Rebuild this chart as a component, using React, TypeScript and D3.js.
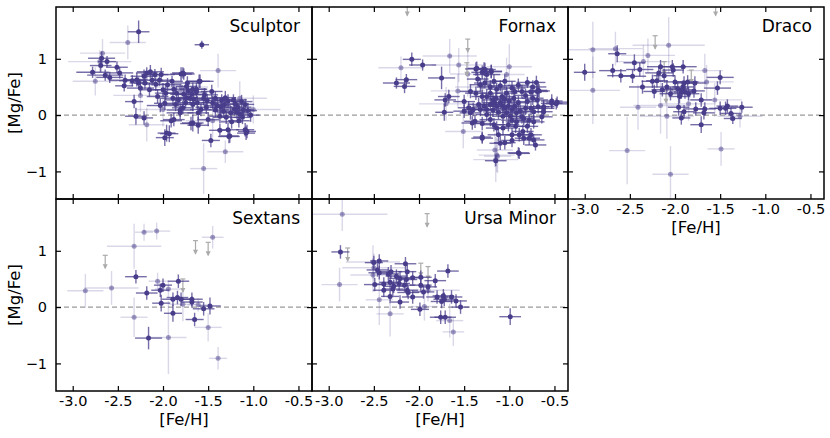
import React, { useEffect, useRef } from "react";
import * as d3 from "d3";

// [Fe/H], [Mg/Fe], err Fe, err Mg
type Pt = [number, number, number, number];

const sculptorDark: Pt[] = [
  [-2.27, 1.48, 0.12, 0.2], [-1.57, 1.25, 0.08, 0.07], [-2.68, 1.01, 0.15, 0.12], [-2.78, 0.76, 0.18, 0.1],
  [-2.69, 0.88, 0.12, 0.12], [-2.62, 0.95, 0.1, 0.1], [-2.64, 0.71, 0.2, 0.1], [-2.59, 0.67, 0.15, 0.1],
  [-2.51, 0.85, 0.12, 0.1], [-2.48, 0.75, 0.15, 0.1], [-2.43, 0.52, 0.1, 0.1], [-2.42, 0.62, 0.18, 0.1],
  [-2.34, 0.61, 0.15, 0.1], [-2.29, 0.63, 0.12, 0.12], [-2.27, 0.57, 0.1, 0.1], [-2.25, 0.48, 0.15, 0.12],
  [-2.21, 0.69, 0.15, 0.12], [-2.18, 0.75, 0.12, 0.1], [-2.14, 0.77, 0.15, 0.12], [-2.2, 0.57, 0.12, 0.1],
  [-2.15, 0.45, 0.12, 0.12], [-2.09, 0.72, 0.15, 0.1], [-2.04, 0.62, 0.12, 0.1], [-2.02, 0.72, 0.15, 0.12],
  [-2.06, 0.33, 0.12, 0.12], [-2.03, 0.17, 0.15, 0.12], [-1.98, 0.21, 0.12, 0.12], [-2.0, 0.45, 0.15, 0.12],
  [-1.95, 0.54, 0.15, 0.12], [-1.88, 0.46, 0.12, 0.1], [-1.89, 0.3, 0.15, 0.12], [-1.85, 0.39, 0.12, 0.12],
  [-1.83, 0.27, 0.15, 0.12], [-1.8, 0.73, 0.12, 0.12], [-1.77, 0.73, 0.12, 0.1], [-1.73, 0.57, 0.15, 0.12],
  [-1.72, 0.43, 0.12, 0.12], [-1.77, 0.37, 0.15, 0.12], [-1.75, 0.22, 0.12, 0.1], [-1.81, 0.09, 0.15, 0.12],
  [-1.68, 0.37, 0.15, 0.12], [-1.66, 0.28, 0.12, 0.1], [-1.63, 0.46, 0.12, 0.12], [-1.62, 0.22, 0.15, 0.12],
  [-1.6, 0.6, 0.12, 0.12], [-1.61, 0.04, 0.12, 0.12], [-1.67, -0.14, 0.12, 0.15], [-1.96, -0.32, 0.1, 0.15],
  [-1.93, -0.33, 0.1, 0.15], [-1.88, -0.08, 0.12, 0.12], [-2.32, 0.24, 0.1, 0.12], [-2.3, -0.02, 0.12, 0.15],
  [-2.21, -0.05, 0.1, 0.12], [-1.98, -0.4, 0.1, 0.15], [-1.91, -0.1, 0.12, 0.12], [-1.81, 0.04, 0.15, 0.12],
  [-1.69, -0.15, 0.12, 0.12], [-1.61, -0.18, 0.12, 0.15], [-1.47, -0.45, 0.1, 0.12], [-1.37, -0.27, 0.12, 0.12],
  [-1.27, -0.38, 0.12, 0.12], [-1.07, -0.29, 0.1, 0.12], [-1.03, 0.0, 0.1, 0.12], [-1.09, 0.19, 0.1, 0.1],
  [-1.78, 0.75, 0.12, 0.1], [-1.59, 0.6, 0.15, 0.12], [-1.74, 0.51, 0.12, 0.1], [-1.67, 0.46, 0.15, 0.12],
  [-1.63, 0.41, 0.12, 0.12], [-1.54, 0.36, 0.15, 0.12], [-1.46, 0.42, 0.12, 0.12], [-1.51, 0.26, 0.15, 0.12],
  [-1.45, 0.22, 0.12, 0.12], [-1.42, 0.3, 0.15, 0.12], [-1.35, 0.27, 0.12, 0.1], [-1.32, 0.19, 0.15, 0.12],
  [-1.28, 0.25, 0.12, 0.12], [-1.22, 0.27, 0.15, 0.1], [-1.21, 0.11, 0.12, 0.12], [-1.17, 0.14, 0.15, 0.12],
  [-1.11, 0.09, 0.12, 0.12], [-1.25, 0.04, 0.15, 0.12], [-1.33, 0.07, 0.12, 0.12], [-1.37, -0.02, 0.12, 0.12],
  [-1.3, -0.04, 0.15, 0.12], [-1.5, -0.08, 0.12, 0.12], [-1.58, 0.1, 0.12, 0.12], [-1.67, 0.19, 0.15, 0.12],
  [-1.28, -0.26, 0.12, 0.12], [-1.26, -0.37, 0.1, 0.12], [-1.09, -0.26, 0.1, 0.12], [-1.08, -0.32, 0.1, 0.12],
  [-1.78, 0.13, 0.12, 0.12], [-1.74, 0.31, 0.12, 0.12], [-1.42, 0.09, 0.15, 0.12], [-1.18, 0.05, 0.12, 0.12],
  [-1.2, 0.2, 0.15, 0.12], [-1.15, 0.02, 0.1, 0.1], [-1.13, 0.24, 0.12, 0.12], [-1.06, 0.08, 0.1, 0.12],
  [-1.24, -0.12, 0.12, 0.12], [-1.4, 0.17, 0.15, 0.12], [-1.31, 0.31, 0.12, 0.12], [-1.55, 0.3, 0.15, 0.12],
  [-1.7, 0.3, 0.12, 0.12], [-1.9, 0.6, 0.12, 0.1], [-2.08, 0.55, 0.15, 0.12], [-2.12, 0.62, 0.12, 0.1],
  [-1.97, 0.39, 0.12, 0.12], [-1.86, 0.19, 0.12, 0.12], [-1.52, 0.14, 0.12, 0.12], [-1.36, 0.14, 0.12, 0.12],
  [-1.16, -0.1, 0.12, 0.12], [-1.12, -0.04, 0.1, 0.12],
];
const sculptorLight: Pt[] = [
  [-2.39, 1.29, 0.2, 0.3], [-1.39, 0.79, 0.2, 0.3], [-2.67, 1.1, 0.25, 0.25], [-2.75, 0.6, 0.25, 0.25],
  [-2.18, -0.17, 0.2, 0.3], [-1.55, -0.95, 0.15, 0.45], [-1.31, -0.65, 0.2, 0.2], [-1.15, 0.3, 0.3, 0.3],
  [-2.7, 0.95, 0.35, 0.2], [-2.0, 0.1, 0.3, 0.3], [-1.45, -0.1, 0.3, 0.3], [-1.0, 0.1, 0.3, 0.25],
  [-1.8, 0.5, 0.3, 0.25], [-2.25, 0.35, 0.3, 0.3],
];
const sculptorLimits: [number, number][] = [];

const fornaxDark: Pt[] = [
  [-2.08, 0.99, 0.1, 0.12], [-1.96, 0.89, 0.15, 0.1], [-2.25, 0.57, 0.15, 0.1], [-2.14, 0.63, 0.12, 0.1],
  [-2.16, 0.51, 0.12, 0.12], [-1.75, 0.66, 0.15, 0.2], [-1.37, 0.82, 0.12, 0.12], [-1.3, 0.76, 0.12, 0.12],
  [-1.28, 0.82, 0.1, 0.12], [-1.35, 0.64, 0.12, 0.12], [-1.25, 0.72, 0.15, 0.12], [-1.2, 0.78, 0.12, 0.12],
  [-1.32, 0.54, 0.12, 0.12], [-1.27, 0.57, 0.12, 0.1], [-1.21, 0.5, 0.15, 0.12], [-1.17, 0.6, 0.12, 0.12],
  [-1.14, 0.46, 0.12, 0.12], [-1.1, 0.52, 0.15, 0.1], [-1.05, 0.6, 0.12, 0.12], [-1.08, 0.33, 0.12, 0.12],
  [-1.03, 0.39, 0.12, 0.12], [-0.97, 0.48, 0.15, 0.12], [-0.94, 0.42, 0.12, 0.1], [-0.9, 0.53, 0.12, 0.12],
  [-0.86, 0.42, 0.12, 0.12], [-0.8, 0.58, 0.12, 0.1], [-0.76, 0.41, 0.12, 0.12], [-0.74, 0.5, 0.15, 0.12],
  [-0.69, 0.42, 0.12, 0.12], [-0.68, 0.44, 0.1, 0.12], [-0.62, 0.12, 0.12, 0.12], [-0.62, 0.06, 0.1, 0.1],
  [-0.53, 0.25, 0.12, 0.12], [-0.47, 0.23, 0.12, 0.1], [-0.64, -0.03, 0.12, 0.12], [-0.76, 0.12, 0.12, 0.12],
  [-0.73, 0.06, 0.12, 0.12], [-0.82, 0.12, 0.12, 0.12], [-0.84, -0.06, 0.12, 0.12], [-0.8, -0.2, 0.12, 0.12],
  [-0.76, -0.35, 0.12, 0.12], [-0.73, -0.44, 0.12, 0.1], [-0.71, -0.53, 0.12, 0.1], [-0.78, -0.41, 0.12, 0.12],
  [-0.85, -0.29, 0.12, 0.12], [-0.84, -0.41, 0.1, 0.12], [-0.9, -0.67, 0.12, 0.1], [-0.89, -0.35, 0.12, 0.12],
  [-0.93, -0.2, 0.12, 0.12], [-0.97, -0.35, 0.12, 0.12], [-1.05, -0.49, 0.12, 0.12], [-1.12, -0.35, 0.12, 0.12],
  [-1.14, -0.23, 0.12, 0.12], [-1.17, -0.17, 0.12, 0.12], [-1.21, -0.08, 0.12, 0.12], [-1.25, 0.01, 0.12, 0.12],
  [-1.3, -0.41, 0.12, 0.1], [-1.1, -0.5, 0.12, 0.12], [-1.07, -0.02, 0.12, 0.12], [-1.03, 0.04, 0.12, 0.12],
  [-0.97, 0.1, 0.12, 0.12], [-0.94, 0.16, 0.12, 0.12], [-0.92, 0.04, 0.12, 0.12], [-0.88, 0.07, 0.12, 0.12],
  [-0.86, -0.03, 0.12, 0.12], [-1.01, 0.16, 0.12, 0.12], [-1.07, 0.16, 0.12, 0.12], [-1.1, 0.22, 0.12, 0.12],
  [-1.14, 0.16, 0.12, 0.12], [-1.17, 0.22, 0.12, 0.12], [-1.21, 0.19, 0.12, 0.12], [-1.25, 0.1, 0.12, 0.12],
  [-1.28, 0.16, 0.12, 0.12], [-1.32, 0.1, 0.12, 0.12], [-1.34, 0.19, 0.12, 0.12], [-1.4, 0.1, 0.12, 0.12],
  [-1.43, 0.04, 0.12, 0.12], [-1.43, 0.42, 0.12, 0.12], [-1.5, 0.24, 0.12, 0.12], [-1.5, 0.07, 0.12, 0.12],
  [-1.45, 0.13, 0.12, 0.12], [-1.37, 0.39, 0.12, 0.12], [-1.3, 0.33, 0.12, 0.12], [-1.25, 0.33, 0.12, 0.12],
  [-1.21, 0.39, 0.12, 0.12], [-1.18, 0.27, 0.12, 0.12], [-1.15, 0.3, 0.12, 0.12], [-1.67, 0.33, 0.12, 0.12],
  [-1.71, 0.27, 0.12, 0.12], [-1.72, 0.05, 0.1, 0.15], [-0.97, -0.45, 0.12, 0.12], [-0.8, 0.24, 0.12, 0.12],
  [-0.74, 0.3, 0.12, 0.12], [-0.69, 0.27, 0.12, 0.12], [-0.68, 0.15, 0.12, 0.12], [-0.62, 0.15, 0.12, 0.12],
  [-0.78, -0.09, 0.12, 0.12], [-0.73, -0.12, 0.12, 0.12], [-0.92, -0.12, 0.12, 0.12], [-0.97, -0.09, 0.12, 0.12],
  [-1.01, -0.17, 0.12, 0.12], [-1.07, -0.23, 0.12, 0.12], [-1.3, -0.15, 0.12, 0.12], [-1.38, -0.11, 0.12, 0.12],
  [-1.41, -0.14, 0.12, 0.12], [-0.53, 0.21, 0.12, 0.1], [-0.48, 0.2, 0.12, 0.1], [-0.7, 0.58, 0.1, 0.12],
  [-0.67, 0.43, 0.12, 0.12], [-0.89, -0.68, 0.12, 0.1], [-1.15, -0.81, 0.12, 0.1], [-1.3, -0.39, 0.1, 0.1],
  [-1.36, 0.83, 0.1, 0.12], [-1.27, 0.81, 0.12, 0.12], [-1.2, 0.77, 0.12, 0.12], [-1.0, 0.25, 0.12, 0.12],
  [-0.95, 0.3, 0.12, 0.12], [-1.05, 0.28, 0.12, 0.12], [-0.9, 0.22, 0.12, 0.12], [-1.12, 0.05, 0.12, 0.12],
  [-0.99, -0.02, 0.12, 0.12], [-0.82, 0.35, 0.12, 0.12], [-1.18, 0.09, 0.12, 0.12], [-1.05, 0.12, 0.12, 0.12],
];
const fornaxLight: Pt[] = [
  [-2.2, 0.84, 0.25, 0.2], [-1.66, 1.05, 0.3, 0.3], [-1.56, 0.89, 0.3, 0.3], [-1.46, 0.73, 0.2, 0.4],
  [-1.03, 0.72, 0.2, 0.3], [-1.0, 0.86, 0.25, 0.4], [-1.57, 0.43, 0.3, 0.3], [-1.51, -0.29, 0.2, 0.3],
  [-1.14, -0.71, 0.2, 0.3], [-1.15, -0.79, 0.25, 0.4], [-1.16, -0.62, 0.2, 0.3], [-1.13, -0.73, 0.15, 0.3],
  [-1.7, 0.2, 0.3, 0.3], [-1.3, 0.5, 0.3, 0.3],
];
const fornaxLimits: [number, number][] = [[-1.46, 1.35], [-2.13, 2.0], [-1.47, 0.93]];

const dracoDark: Pt[] = [
  [-3.0, 0.76, 0.12, 0.15], [-2.64, 1.09, 0.1, 0.15], [-2.69, 0.79, 0.15, 0.12], [-2.6, 0.7, 0.15, 0.12],
  [-2.47, 0.69, 0.15, 0.12], [-2.45, 0.93, 0.12, 0.15], [-2.39, 0.81, 0.15, 0.12], [-2.36, 0.5, 0.15, 0.12],
  [-2.23, 0.42, 0.12, 0.12], [-2.14, 0.45, 0.12, 0.12], [-2.18, 0.75, 0.15, 0.12], [-2.25, 0.6, 0.12, 0.12],
  [-2.2, 0.61, 0.12, 0.12], [-2.16, 0.86, 0.15, 0.12], [-2.12, 0.7, 0.12, 0.12], [-2.09, 0.5, 0.12, 0.12],
  [-2.03, 0.86, 0.15, 0.12], [-2.02, 0.8, 0.12, 0.12], [-1.91, 0.86, 0.15, 0.12], [-2.0, 0.59, 0.12, 0.12],
  [-1.97, 0.47, 0.12, 0.12], [-1.95, 0.33, 0.12, 0.12], [-1.91, 0.5, 0.12, 0.12], [-1.9, 0.57, 0.12, 0.12],
  [-1.89, 0.41, 0.12, 0.12], [-1.93, 0.41, 0.12, 0.12], [-1.96, 0.14, 0.12, 0.15], [-1.93, -0.05, 0.1, 0.12],
  [-1.9, 0.06, 0.12, 0.12], [-1.86, 0.59, 0.12, 0.12], [-1.79, 0.43, 0.12, 0.12], [-1.78, 0.57, 0.12, 0.12],
  [-1.77, 0.11, 0.12, 0.12], [-1.71, 0.27, 0.12, 0.12], [-1.71, -0.17, 0.12, 0.15], [-1.68, 0.04, 0.12, 0.12],
  [-1.67, 0.11, 0.12, 0.12], [-1.5, 0.67, 0.15, 0.12], [-1.53, 0.48, 0.15, 0.12], [-1.5, 0.12, 0.12, 0.12],
  [-1.44, 0.12, 0.12, 0.12], [-1.42, 0.16, 0.12, 0.12], [-1.38, 0.03, 0.12, 0.12], [-1.36, -0.06, 0.1, 0.1],
  [-1.26, 0.14, 0.12, 0.1], [-1.92, 0.45, 0.12, 0.12], [-1.85, 0.38, 0.12, 0.12], [-2.05, 0.38, 0.12, 0.12],
];
const dracoLight: Pt[] = [
  [-2.91, 1.16, 0.3, 0.5], [-2.91, 0.44, 0.3, 0.6], [-2.66, 1.18, 0.3, 0.3], [-2.41, 0.14, 0.2, 0.4],
  [-2.53, -0.63, 0.2, 0.6], [-2.05, -1.05, 0.2, 0.5], [-2.07, 1.24, 0.4, 0.5], [-2.3, 1.06, 0.3, 0.3],
  [-2.16, 0.17, 0.3, 0.5], [-2.09, -0.02, 0.3, 0.4], [-1.67, 0.79, 0.2, 0.3], [-1.65, 0.59, 0.3, 0.3],
  [-1.56, 0.27, 0.3, 0.3], [-1.28, -0.02, 0.25, 0.2], [-1.49, -0.6, 0.15, 0.3], [-2.35, 0.95, 0.3, 0.3],
  [-1.85, 0.2, 0.3, 0.3],
];
const dracoLimits: [number, number][] = [[-2.22, 1.41], [-2.12, 0.95], [-1.82, 0.8], [-2.1, 0.45], [-1.55, 2.0]];

const sextansDark: Pt[] = [
  [-2.3, 0.54, 0.12, 0.12], [-2.18, 0.25, 0.12, 0.12], [-2.0, 0.39, 0.1, 0.12], [-2.03, 0.3, 0.1, 0.12],
  [-2.02, 0.07, 0.1, 0.15], [-2.16, -0.55, 0.15, 0.2], [-1.89, -0.11, 0.1, 0.15], [-1.89, 0.14, 0.12, 0.12],
  [-1.84, 0.17, 0.12, 0.12], [-1.83, 0.46, 0.12, 0.12], [-1.8, 0.14, 0.12, 0.12], [-1.68, 0.14, 0.12, 0.12],
  [-1.68, 0.09, 0.12, 0.1], [-1.65, -0.22, 0.1, 0.12], [-1.55, -0.03, 0.12, 0.12], [-1.48, 0.02, 0.12, 0.15],
];
const sextansLight: Pt[] = [
  [-2.86, 0.29, 0.2, 0.3], [-2.57, 0.34, 0.3, 0.3], [-2.32, 1.08, 0.3, 0.4], [-2.21, 1.33, 0.1, 0.15],
  [-2.07, 1.35, 0.15, 0.15], [-2.06, 0.46, 0.1, 0.15], [-2.32, -0.18, 0.15, 0.35], [-1.94, -0.54, 0.2, 0.65],
  [-1.94, 0.32, 0.15, 0.15], [-1.61, 0.04, 0.12, 0.12], [-1.5, -0.36, 0.15, 0.25], [-1.45, 1.24, 0.12, 0.2],
  [-1.39, -0.91, 0.1, 0.2], [-1.78, 0.05, 0.15, 0.3],
];
const sextansLimits: [number, number][] = [[-2.64, 0.92], [-1.64, 1.18], [-1.5, 1.15], [-1.78, 0.5]];

const ursaDark: Pt[] = [
  [-2.87, 0.98, 0.1, 0.12], [-2.5, 0.79, 0.1, 0.12], [-2.44, 0.82, 0.1, 0.12], [-2.46, 0.66, 0.12, 0.12],
  [-2.44, 0.61, 0.12, 0.12], [-2.49, 0.4, 0.12, 0.12], [-2.39, 0.41, 0.12, 0.12], [-2.39, 0.3, 0.12, 0.12],
  [-2.34, 0.59, 0.12, 0.12], [-2.31, 0.63, 0.12, 0.12], [-2.32, 0.44, 0.12, 0.12], [-2.29, 0.32, 0.12, 0.12],
  [-2.28, 0.37, 0.12, 0.12], [-2.32, 0.19, 0.1, 0.12], [-2.25, 0.55, 0.12, 0.12], [-2.21, 0.51, 0.12, 0.12],
  [-2.22, 0.42, 0.12, 0.12], [-2.21, 0.09, 0.1, 0.12], [-2.15, 0.77, 0.12, 0.12], [-2.14, 0.49, 0.12, 0.12],
  [-2.16, 0.39, 0.12, 0.12], [-2.13, 0.3, 0.12, 0.12], [-2.13, 0.63, 0.1, 0.12], [-2.07, 0.52, 0.12, 0.12],
  [-2.07, 0.18, 0.12, 0.12], [-2.12, 0.26, 0.12, 0.12], [-1.98, 0.53, 0.12, 0.12], [-1.98, 0.39, 0.12, 0.12],
  [-1.95, 0.27, 0.12, 0.12], [-1.9, 0.36, 0.1, 0.12], [-1.99, -0.04, 0.1, 0.12], [-1.82, 0.47, 0.12, 0.12],
  [-1.68, 0.64, 0.12, 0.12], [-1.8, 0.18, 0.12, 0.12], [-1.73, 0.2, 0.12, 0.12], [-1.72, 0.14, 0.12, 0.12],
  [-1.75, 0.1, 0.12, 0.12], [-1.64, 0.18, 0.12, 0.12], [-1.59, 0.11, 0.12, 0.12], [-1.54, 0.0, 0.1, 0.12],
  [-1.76, -0.18, 0.12, 0.12], [-1.71, -0.18, 0.12, 0.12], [-0.99, -0.17, 0.12, 0.15],
];
const ursaLight: Pt[] = [
  [-2.85, 1.65, 0.5, 0.3], [-2.88, 0.4, 0.2, 0.3], [-2.51, 0.8, 0.3, 0.3], [-2.51, 0.57, 0.25, 0.3],
  [-2.44, 0.13, 0.15, 0.45], [-2.32, -0.12, 0.15, 0.4], [-1.94, 0.01, 0.15, 0.25], [-1.66, -0.24, 0.15, 0.3],
  [-1.62, -0.44, 0.12, 0.25], [-2.5, 0.7, 0.35, 0.25], [-1.9, 0.3, 0.35, 0.2],
];
const ursaLimits: [number, number][] = [[-1.91, 1.66], [-2.79, 1.05], [-1.98, 0.78], [-1.9, 0.72]];

const panels = [
  { name: "Sculptor", row: 0, col: 0, dark: sculptorDark, light: sculptorLight, limits: sculptorLimits, xl: false, yl: true },
  { name: "Fornax", row: 0, col: 1, dark: fornaxDark, light: fornaxLight, limits: fornaxLimits, xl: false, yl: false },
  { name: "Draco", row: 0, col: 2, dark: dracoDark, light: dracoLight, limits: dracoLimits, xl: true, yl: false },
  { name: "Sextans", row: 1, col: 0, dark: sextansDark, light: sextansLight, limits: sextansLimits, xl: true, yl: true },
  { name: "Ursa Minor", row: 1, col: 1, dark: ursaDark, light: ursaLight, limits: ursaLimits, xl: true, yl: false },
];

const xTicks = [-3.0, -2.5, -2.0, -1.5, -1.0, -0.5];
const yTicks = [-1, 0, 1];
const xDomain = [-3.185, -0.35];
const yDomain = [-1.49, 1.92];

const W = 830;
const H = 438;
const left = 56;
const top = 7;
const pw = 256;
const ph = 192;
const purple = "#483D8B";
const font = "DejaVu Sans";

const App = () => {
  const svgRef = useRef<SVGSVGElement | null>(null);

  useEffect(() => {
    const svg = d3.select(svgRef.current);
    svg.selectAll("*").remove();

    const x = d3.scaleLinear().domain(xDomain).range([0, pw]);
    const y = d3.scaleLinear().domain(yDomain).range([ph, 0]);

    const errBars = (g: any, pts: Pt[], opacity: number) => {
      const eb = g.append("g").attr("stroke", purple).attr("stroke-opacity", opacity).attr("stroke-width", 1.4);
      pts.forEach(([fe, mg, efe, emg]) => {
        eb.append("line").attr("x1", x(fe - efe)).attr("x2", x(fe + efe)).attr("y1", y(mg)).attr("y2", y(mg));
        eb.append("line").attr("x1", x(fe)).attr("x2", x(fe)).attr("y1", y(mg - emg)).attr("y2", y(mg + emg));
      });
    };
    const dots = (g: any, pts: Pt[], opacity: number) => {
      g.append("g")
        .selectAll("circle")
        .data(pts)
        .enter()
        .append("circle")
        .attr("cx", (d: Pt) => x(d[0]))
        .attr("cy", (d: Pt) => y(d[1]))
        .attr("r", 2.5)
        .attr("fill", purple)
        .attr("fill-opacity", opacity);
    };

    panels.forEach((p, i) => {
      const g = svg.append("g").attr("transform", `translate(${left + p.col * pw},${top + p.row * ph})`);
      g.append("clipPath").attr("id", `clip-${i}`).append("rect").attr("width", pw).attr("height", ph);
      const plot = g.append("g").attr("clip-path", `url(#clip-${i})`);

      // zero line
      plot
        .append("line")
        .attr("x1", 0)
        .attr("x2", pw)
        .attr("y1", y(0))
        .attr("y2", y(0))
        .attr("stroke", "#9a9a9a")
        .attr("stroke-width", 1.2)
        .attr("stroke-dasharray", "5,3");

      errBars(plot, p.light, 0.2);
      dots(plot, p.light, 0.5);

      // upper limits
      const ul = plot.append("g").attr("stroke", "#aaaaaa").attr("fill", "#aaaaaa").attr("stroke-width", 1.2);
      p.limits.forEach(([fe, mg]) => {
        const cx = x(fe);
        const y0 = y(mg);
        const y1 = y0 + 13;
        ul.append("line").attr("x1", cx).attr("x2", cx).attr("y1", y0).attr("y2", y1);
        ul.append("line").attr("x1", cx - 2.5).attr("x2", cx + 2.5).attr("y1", y0).attr("y2", y0);
        ul.append("path").attr("stroke", "none").attr("d", `M${cx - 2.5},${y1 - 4}L${cx},${y1 + 1}L${cx + 2.5},${y1 - 4}Z`);
      });

      errBars(plot, p.dark, 0.75);
      dots(plot, p.dark, 1);

      // axes with inward ticks on all sides
      const style = (a: any) => {
        a.select(".domain").remove();
        a.selectAll(".tick line").attr("stroke", "#000").attr("stroke-width", 1.2);
        a.selectAll("text").attr("fill", "#000").attr("font-family", font).attr("font-size", 14.5);
      };
      const fmtX = (d: any) => (p.xl ? (+d).toFixed(1) : "");
      const fmtY = (d: any) => (p.yl ? d3.format("d")(+d) : "");
      g.append("g")
        .attr("transform", `translate(0,${ph})`)
        .call(d3.axisBottom(x).tickValues(xTicks).tickSize(-5).tickPadding(5).tickFormat(fmtX))
        .call(style);
      g.append("g").call(d3.axisTop(x).tickValues(xTicks).tickSize(-5).tickFormat(() => "")).call(style);
      g.append("g").call(d3.axisLeft(y).tickValues(yTicks).tickSize(-5).tickPadding(9).tickFormat(fmtY)).call(style);
      g.append("g")
        .attr("transform", `translate(${pw},0)`)
        .call(d3.axisRight(y).tickValues(yTicks).tickSize(-5).tickFormat(() => ""))
        .call(style);

      g.append("rect").attr("width", pw).attr("height", ph).attr("fill", "none").attr("stroke", "#000").attr("stroke-width", 1.5);

      g.append("text")
        .attr("x", pw - 12)
        .attr("y", 25)
        .attr("text-anchor", "end")
        .attr("font-family", font)
        .attr("font-size", 17)
        .text(p.name);

      if (p.xl) {
        g.append("text")
          .attr("x", pw / 2)
          .attr("y", ph + 34)
          .attr("text-anchor", "middle")
          .attr("font-family", font)
          .attr("font-size", 16.5)
          .text("[Fe/H]");
      }
      if (p.yl) {
        g.append("text")
          .attr("transform", `translate(${19.5 - left},${ph / 2}) rotate(-90)`)
          .attr("text-anchor", "middle")
          .attr("font-family", font)
          .attr("font-size", 16.5)
          .text("[Mg/Fe]");
      }
    });
  }, []);

  return (
    <svg
      ref={svgRef}
      width={W}
      height={H}
      style={{ position: "absolute", left: 0, top: 0, background: "#fff" }}
    ></svg>
  );
};

export default App;
